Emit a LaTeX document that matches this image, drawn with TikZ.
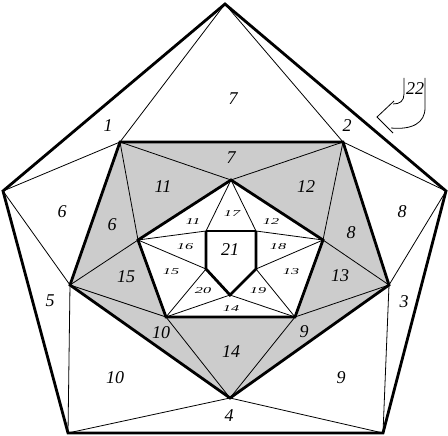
\documentclass[tikz,border=0pt]{standalone}
\usepackage{fontspec}
\setmainfont{Liberation Serif}
\tikzset{
  thinline/.style={line width=0.8pt},
  thickline/.style={line width=2.8pt, line join=miter},
  bigno/.style={inner sep=0pt, font=\fontsize{18}{18}\selectfont\itshape},
  smallno/.style={inner sep=0pt, font=\fontsize{9}{9}\selectfont\itshape}
}
\newcommand{\widenum}[1]{\scalebox{1.8}[1]{#1}}

\begin{document}
\begin{tikzpicture}[x=1pt,y=-1pt]
  \useasboundingbox (0,0) rectangle (448,436);
  % outer pentagon
  \coordinate (o1) at (225,4);
  \coordinate (o2) at (446,191);
  \coordinate (o3) at (383,433);
  \coordinate (o4) at (68,433);
  \coordinate (o5) at (3,191);
  % middle pentagon
  \coordinate (m1) at (120,142);
  \coordinate (m2) at (343,142);
  \coordinate (m3) at (389,285);
  \coordinate (m4) at (230,398);
  \coordinate (m5) at (70,285);
  % inner pentagon
  \coordinate (i1) at (231,180);
  \coordinate (i2) at (323,240);
  \coordinate (i3) at (295,317);
  \coordinate (i4) at (166,317);
  \coordinate (i5) at (138,240);
  % centre
  \coordinate (c1) at (206,231);
  \coordinate (c2) at (256,231);
  \coordinate (c3) at (256,269);
  \coordinate (c4) at (230,295);
  \coordinate (c5) at (206,269);

  \fill[gray!40] (m1) -- (m2) -- (m3) -- (m4) -- (m5) -- cycle;
  \fill[white] (i1) -- (i2) -- (i3) -- (i4) -- (i5) -- cycle;

  \foreach \from/\to in {o1/m1,o1/m2,o2/m2,o2/m3,o3/m3,o3/m4,o4/m4,o4/m5,o5/m5,o5/m1,
    m1/i1,m2/i1,m2/i2,m3/i2,m3/i3,m4/i3,m4/i4,m5/i4,m5/i5,m1/i5,
    i1/c1,i1/c2,i2/c2,i2/c3,i3/c3,i3/c4,i4/c4,i4/c5,i5/c5,i5/c1}
  \draw[thinline] (\from) -- (\to);

  \draw[thickline] (o1) -- (o2) -- (o3) -- (o4) -- (o5) -- cycle;
  \draw[thickline] (m1) -- (m2) -- (m3) -- (m4) -- (m5) -- cycle;
  \draw[thickline] (i1) -- (i2) -- (i3) -- (i4) -- (i5) -- cycle;
  \draw[thickline] (c1) -- (c5) -- (c4) -- (c3) -- (c2);
  \draw[line width=1.6pt] (c1) -- (c2);

  % arrow to region 22
  \coordinate (a1) at (404,78);
  \coordinate (a2) at (394,101);
  \coordinate (a3) at (377,117);
  \coordinate (a4) at (393,133);
  \coordinate (a5) at (425,78);
  \draw[thinline] (a1) -- (404,94) .. controls (404,101) and (400,104) .. (393,104);
  \draw[thinline] (a2) -- (a3) -- (a4);
  \draw[thinline] (391,128) .. controls (412,130) and (425,123) .. (425,108) -- (a5);

  % outer labels
  \node[bigno] (r7a) at (233,99) {7};
  \node[bigno] (r1) at (108,126) {1};
  \node[bigno] (r2) at (347,126) {2};
  \node[bigno] (r6a) at (62,212) {6};
  \node[bigno] (r8a) at (402,212) {8};
  \node[bigno] (r5) at (50,301) {5};
  \node[bigno] (r3) at (404,302) {3};
  \node[bigno] (r10a) at (115,378) {10};
  \node[bigno] (r9a) at (341,378) {9};
  \node[bigno] (r4) at (229,416) {4};
  \node[bigno] (r22) at (415,89) {22};
  % grey labels
  \node[bigno] (r7b) at (231,158) {7};
  \node[bigno] (r11a) at (163,187) {11};
  \node[bigno] (r12a) at (306,187) {12};
  \node[bigno] (r6b) at (112,225) {6};
  \node[bigno] (r8b) at (351,233) {8};
  \node[bigno] (r15a) at (126,277) {15};
  \node[bigno] (r13a) at (340,276) {13};
  \node[bigno] (r10b) at (161,333) {10};
  \node[bigno] (r9b) at (304,332) {9};
  \node[bigno] (r14a) at (231,352) {14};
  % inner labels
  \node[bigno] (r21) at (230,250) {21};
  \node[smallno] (r17) at (232,214) {\widenum{17}};
  \node[smallno] (r11b) at (193,222) {\widenum{11}};
  \node[smallno] (r12b) at (271,222) {\widenum{12}};
  \node[smallno] (r16) at (185,247) {\widenum{16}};
  \node[smallno] (r18) at (278,247) {\widenum{18}};
  \node[smallno] (r15b) at (171,272) {\widenum{15}};
  \node[smallno] (r13b) at (291,272) {\widenum{13}};
  \node[smallno] (r20) at (203,291) {\widenum{20}};
  \node[smallno] (r19) at (258,291) {\widenum{19}};
  \node[smallno] (r14b) at (231,309) {\widenum{14}};
\end{tikzpicture}
\end{document}
